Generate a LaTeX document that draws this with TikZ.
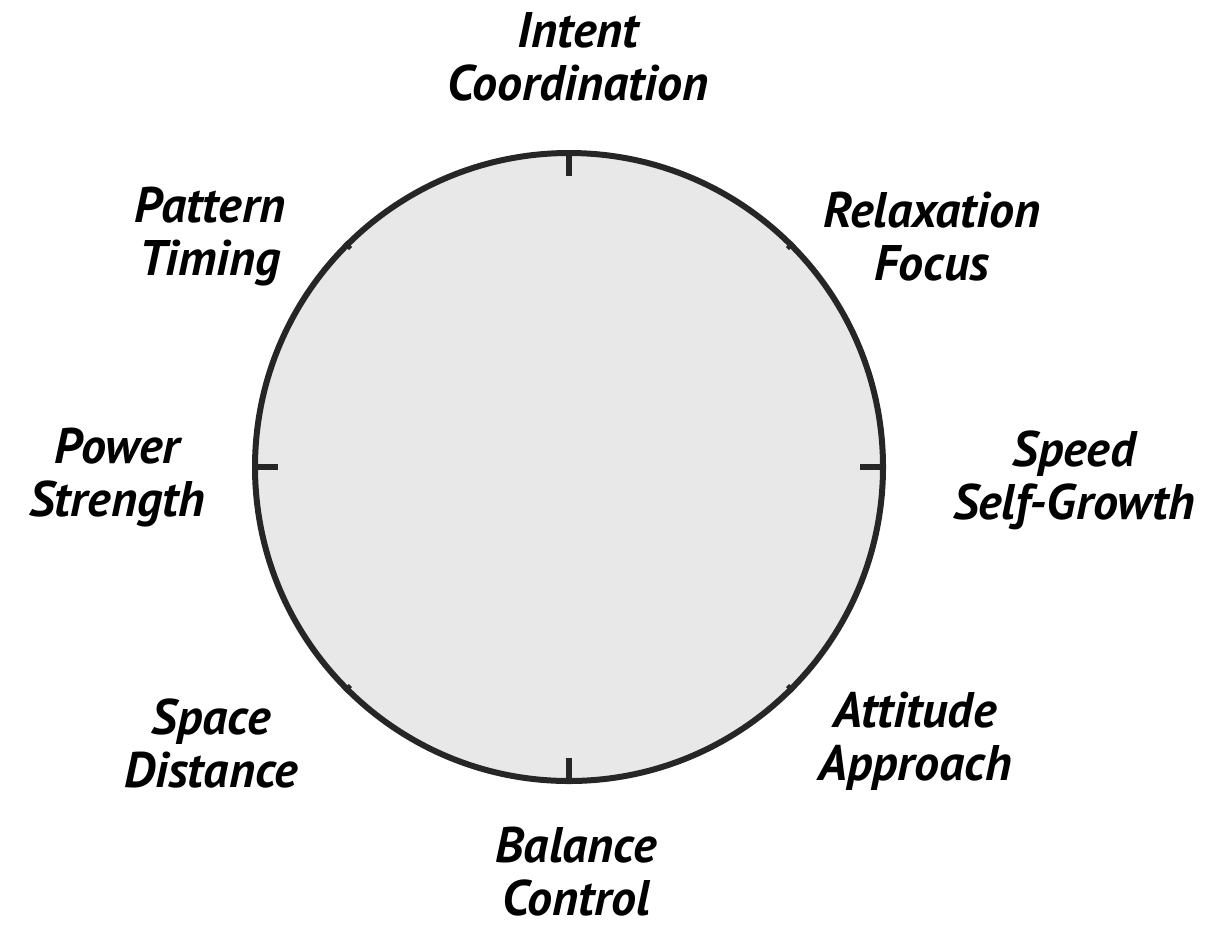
\documentclass[tikz,border=0pt]{standalone}
\usepackage{fontspec}
\setmainfont{PT Sans}
\usepackage{tikz}
\usetikzlibrary{calc}

\begin{document}
\begin{tikzpicture}[x=0.5pt,y=-0.5pt,
  facet/.style={align=center,inner sep=0pt,font=\fontsize{25}{26.5}\selectfont\bfseries\itshape},
  bigtick/.style={line width=2.8pt,draw=black!85},
  smalltick/.style={line width=2.2pt,draw=black!85}]
\useasboundingbox (0,0) rectangle (1208,928);
\node[circle,minimum size=314pt,inner sep=0pt,fill=gray!18,draw=black!85,line width=3pt] (wheel) at (569,467) {};
\foreach \a in {north,south,east,west}
  \draw[bigtick] (wheel.\a) -- ($(wheel.\a)!13pt!(wheel.center)$);
\foreach \a in {45,135,225,315}
  \draw[smalltick] (wheel.\a) -- ($(wheel.\a)!4pt!(wheel.center)$);
\node[facet] (intent) at (578,57) {Intent\\Coordination};
\node[facet] (relax) at (932,237) {Relaxation\\Focus};
\node[facet] (speed) at (1074,480) {Speed\\Self-Growth};
\node[facet] (attitude) at (915,741) {Attitude\\Approach};
\node[facet] (balance) at (576,872) {Balance\\Control};
\node[facet] (space) at (211,743) {Space\\Distance};
\node[facet] (power) at (117,478) {Power\\Strength};
\node[facet] (pattern) at (210,237) {Pattern\\Timing};
\end{tikzpicture}
\end{document}
